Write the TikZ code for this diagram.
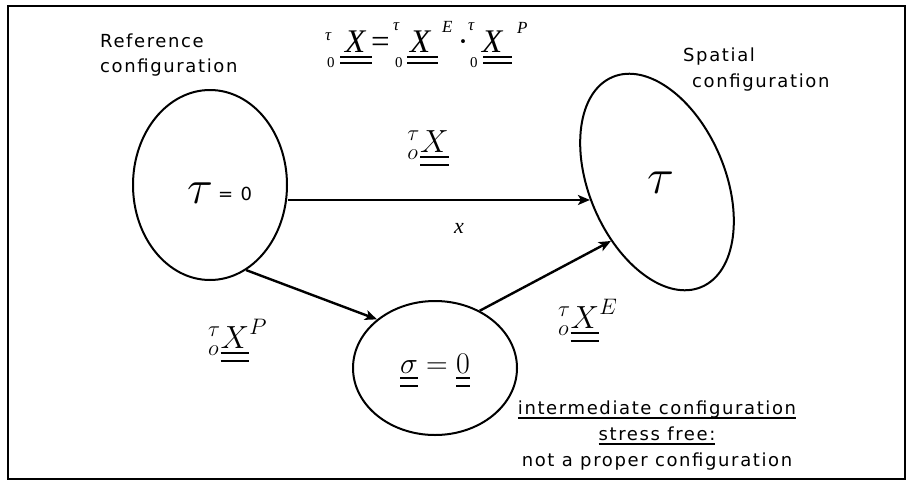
\RequirePackage{fix-cm}
\documentclass[tikz,border=0pt]{standalone}
\usepackage{amsmath}
\usepackage[no-math]{fontspec}
\setmainfont{Liberation Serif}
\newfontfamily\lblfont[LetterSpace=9]{DejaVu Sans}
\usetikzlibrary{arrows.meta,shapes.geometric}
\newcommand{\cmdul}[1]{\vtop{\hbox{$#1$}\kern4pt\hrule height 2.2pt\kern5.5pt\hrule height 2.2pt}}
\newsavebox{\myulbox}
\newcommand{\myul}[1]{\sbox{\myulbox}{#1}\rlap{\rule[-4.5pt]{\wd\myulbox}{1.3pt}}\usebox{\myulbox}}
\begin{document}
\begin{tikzpicture}[x=1pt,y=-1pt]
\tikzset{
 conf/.style={draw, ellipse, line width=2pt, inner sep=0pt},
 arr/.style={line width=2.4pt, -{Stealth[length=12pt,width=10pt,inset=3pt]}},
 lbl/.style={font=\lblfont\fontsize{18}{26}\selectfont, inner sep=0pt},
 mth/.style={inner sep=0pt},
 tf/.style={inner sep=0pt, anchor=base west},
 big/.style={font=\itshape\fontsize{33}{33}\selectfont},
 smit/.style={font=\itshape\fontsize{17}{17}\selectfont},
 smrm/.style={font=\fontsize{15}{15}\selectfont},
 ul/.style={line width=1.8pt},
}
\useasboundingbox (0,0) rectangle (907,480);
\draw[line width=1.5pt] (8,6) rectangle (905,479);

\node[conf, minimum width=154pt, minimum height=190pt] (ref) at (210,185) {};
\node[conf, minimum width=136pt, minimum height=228pt, rotate=23] (spat) at (657,182) {};
\node[conf, minimum width=164pt, minimum height=134pt] (inter) at (435,368) {};

\draw[arr] (ref.east |- spat.172) -- (spat.172);
\draw[arr] (ref.-67) -- (inter.140);
\draw[arr] (inter.52) -- (spat.209);

\node[lbl, anchor=base west] (t1) at (100,47) {Reference};
\node[lbl, anchor=base west] (t2) at (100,72) {configuration};
\node[lbl, anchor=base west] (t3) at (683,61) {Spatial};
\node[lbl, anchor=base west] (t4) at (692,87) {configuration};

% top formula, built piece by piece
\node[tf, smit] (ft1) at (325,40) {τ};
\node[tf, smrm] (fz1) at (327,67) {0};
\node[tf, big] (fX1) at (345,52) {X};
\draw[ul] (fX1.base west) ++(-5,5) -- ++(32,0) ++(-32,6) -- ++(32,0);
\node[tf, font=\fontsize{33}{33}\selectfont] (feq) at (371,52) {=};
\node[tf, smit] (ft2) at (393,30) {τ};
\node[tf, smrm] (fz2) at (395,67) {0};
\node[tf, big] (fX2) at (410,52) {X};
\draw[ul] (fX2.base west) ++(-3,5) -- ++(31,0) ++(-31,6) -- ++(31,0);
\node[tf, smit] (fE) at (442,32) {E};
\node[mth, anchor=base] (fdot) at (463,52) {\fontsize{33}{33}\selectfont ·};
\node[tf, smit] (ft3) at (468,30) {τ};
\node[tf, smrm] (fz3) at (470,67) {0};
\node[tf, big] (fX3) at (482,52) {X};
\draw[ul] (fX3.base west) ++(1,5) -- ++(29,0) ++(-29,6) -- ++(29,0);
\node[tf, smit] (fP) at (517,33) {P};

\node[mth, anchor=base] (fx) at (428,152) {\fontsize{32}{32}\selectfont ${}^{\tau}_{o}\cmdul{X}$};
\node[mth, anchor=base] (sx) at (459,233) {\fontsize{22}{22}\selectfont\itshape x};
\node[mth, anchor=base west] (fp) at (208,348) {\fontsize{32}{32}\selectfont ${}^{\tau}_{o}\cmdul{X}^{P}$};
\node[mth, anchor=base west] (fe) at (558,328) {\fontsize{32}{32}\selectfont ${}^{\tau}_{o}\cmdul{X}^{E}$};

\node[mth, anchor=base] (tau0) at (200,203) {\fontsize{48}{48}\selectfont $\tau$};
\node[lbl, anchor=base west] (eq0) at (218,200) {= 0};
\node[mth, anchor=base] (tau1) at (661,193) {\fontsize{50}{50}\selectfont $\tau$};
\node[mth, anchor=base] (sig) at (435,373) {\fontsize{30}{30}\selectfont $\cmdul{\sigma}=\cmdul{0}$};

\node[lbl, anchor=base] (b1) at (657,414) {\myul{intermediate configuration}};
\node[lbl, anchor=base] (b2) at (657,440) {\myul{stress free:}};
\node[lbl, anchor=base] (b3) at (657,466) {not a proper configuration};
\end{tikzpicture}
\end{document}
